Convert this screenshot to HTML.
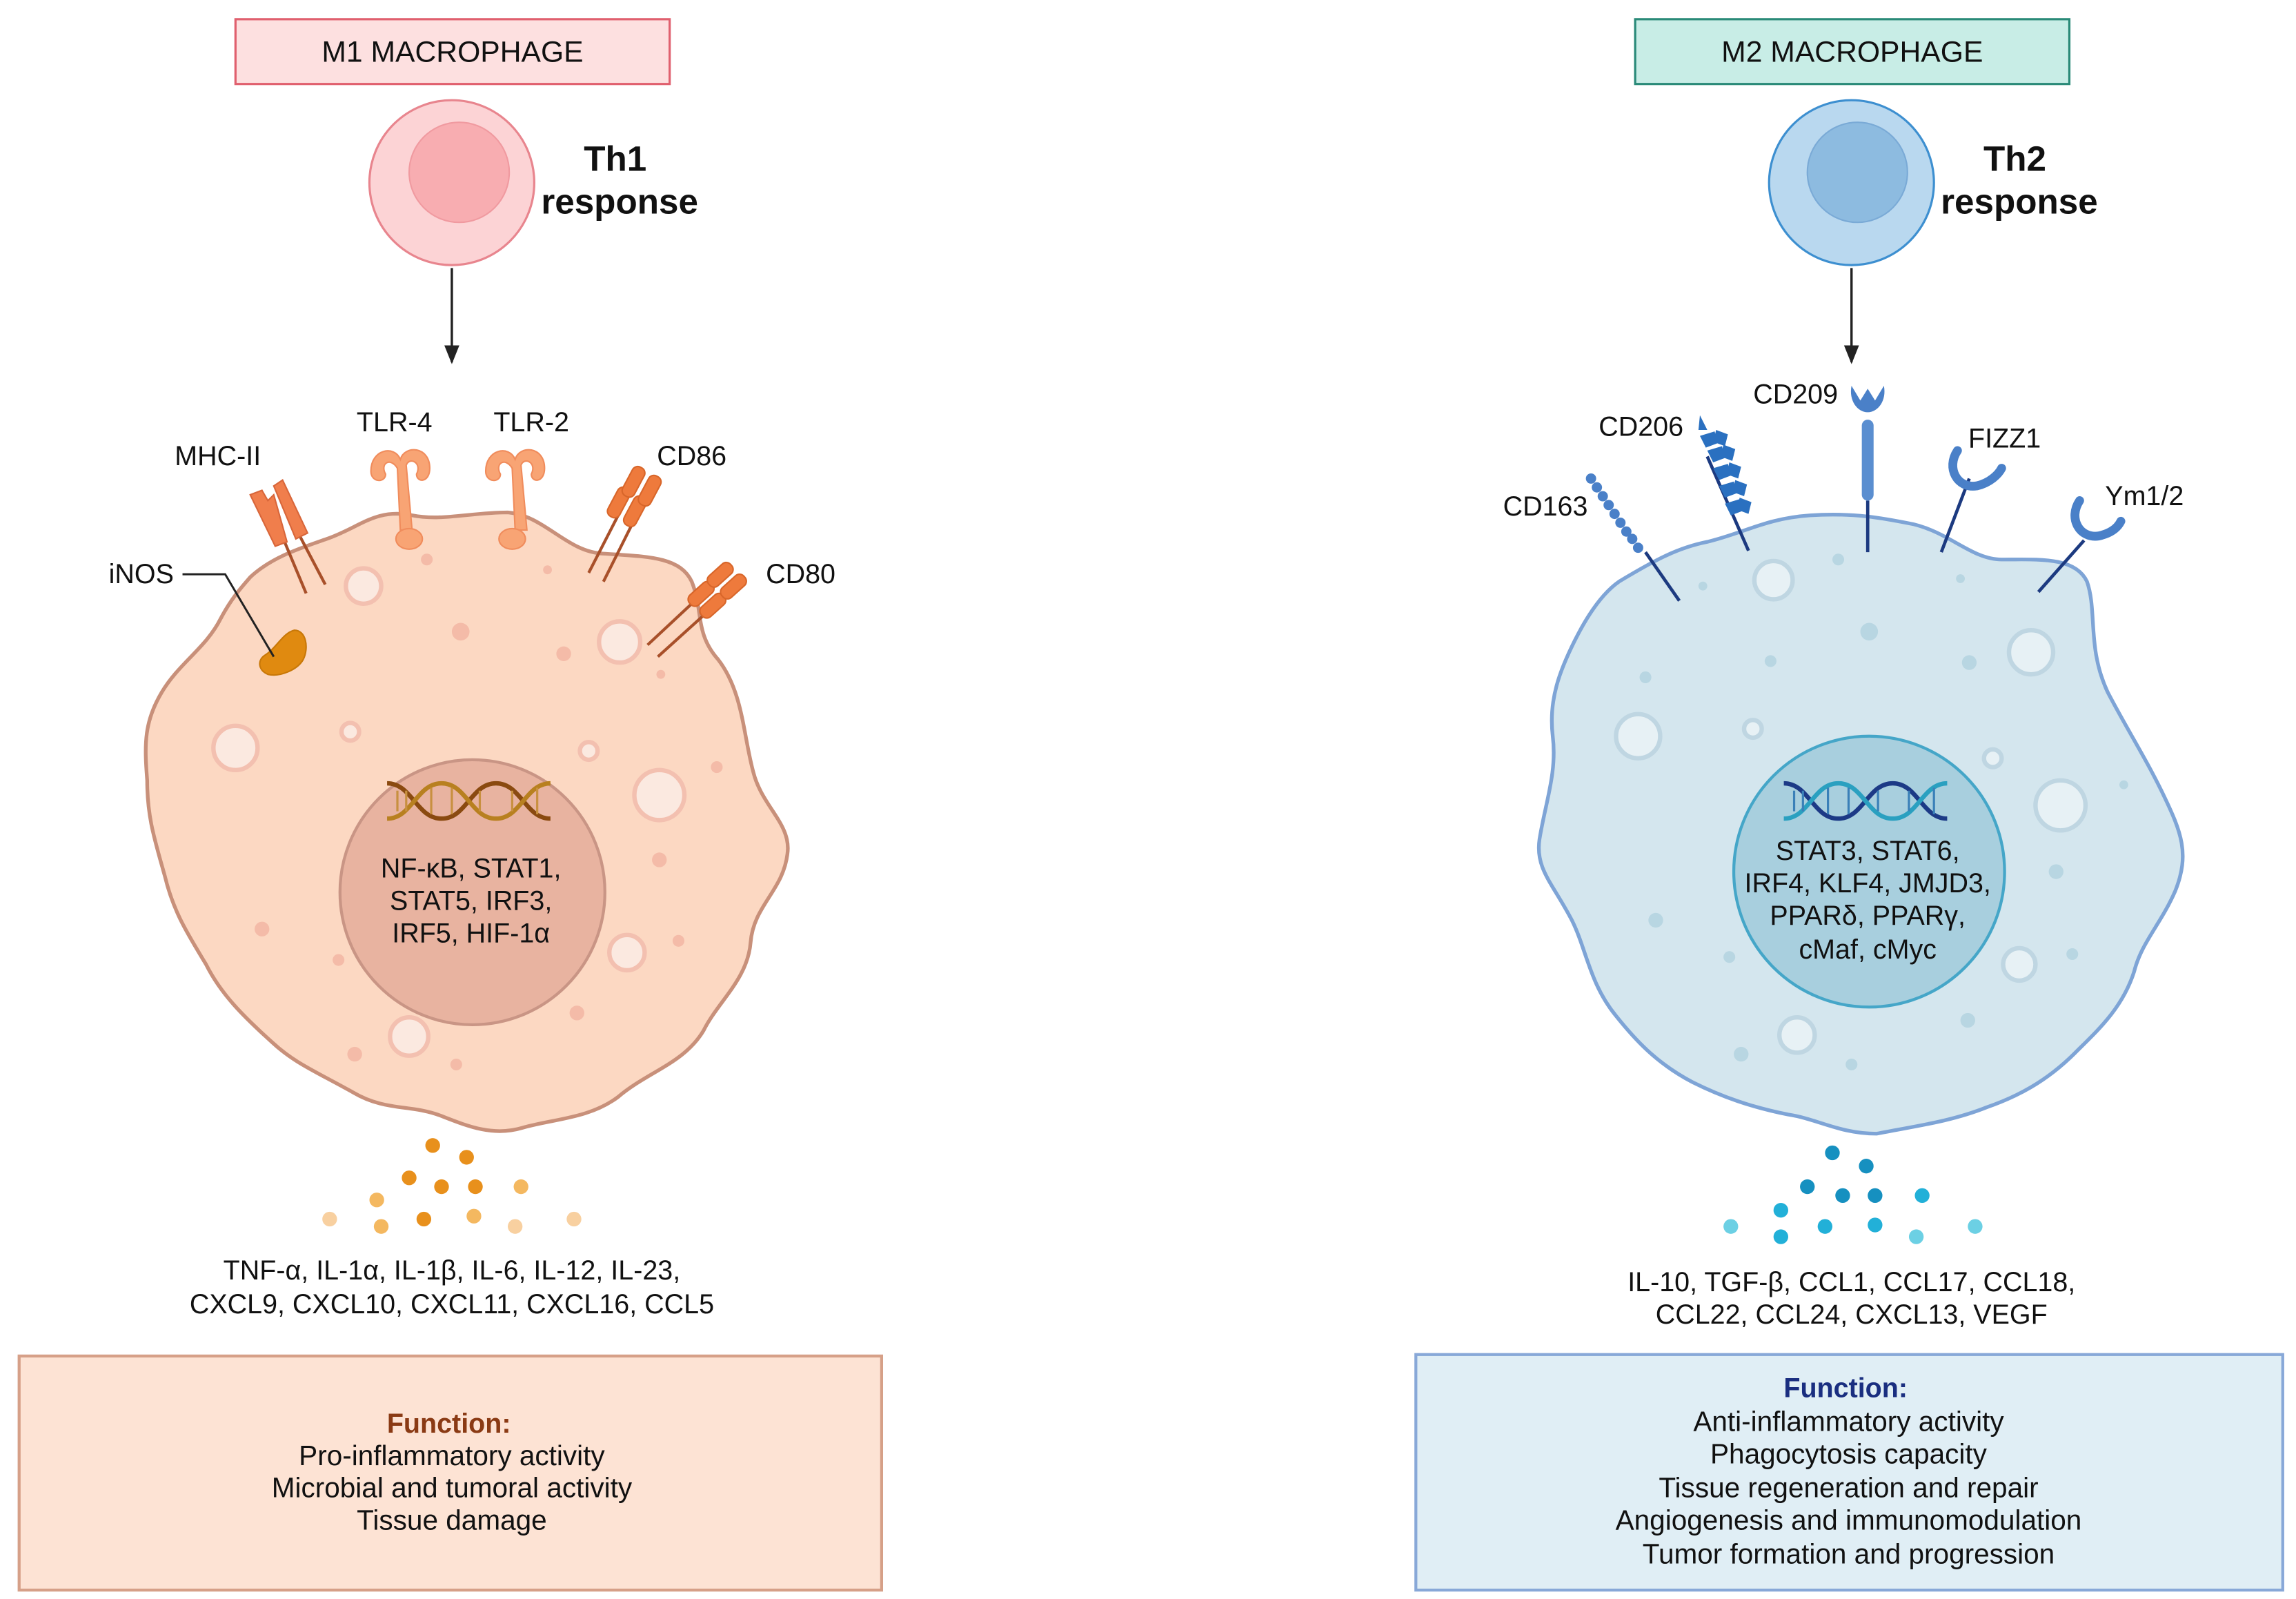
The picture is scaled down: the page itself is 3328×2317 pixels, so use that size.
<!DOCTYPE html>
<html><head><meta charset="utf-8"><style>
html,body{margin:0;padding:0;background:#fff;}
svg{display:block;}
text{font-family:"Liberation Sans",sans-serif;fill:#111;}
</style></head><body>
<svg width="3328" height="2317" viewBox="0 0 1560 1086" xmlns="http://www.w3.org/2000/svg">
<defs>
<marker id="ah" viewBox="0 0 10 10" refX="9" refY="5" markerWidth="8" markerHeight="8" orient="auto"><path d="M0,1 L10,5 L0,9 z" fill="#222"/></marker>
</defs>
<rect width="1560" height="1086" fill="#fff"/>

<rect x="160" y="13" width="295" height="44" fill="#fde0e0" stroke="#e0606e" stroke-width="1.5"/>
<text x="307.5" y="42" font-size="20" text-anchor="middle">M1 MACROPHAGE</text>
<rect x="1111" y="13" width="295" height="44" fill="#c8ede6" stroke="#2a8a78" stroke-width="1.5"/>
<text x="1258.5" y="42" font-size="20" text-anchor="middle">M2 MACROPHAGE</text>

<circle cx="307" cy="124" r="56" fill="#fcd3d5" stroke="#e8858e" stroke-width="1.5"/>
<circle cx="312" cy="117" r="34" fill="#f8adb1" stroke="#f09aa0" stroke-width="1"/>
<text x="418" y="116" font-size="24" font-weight="bold" text-anchor="middle">Th1</text>
<text x="421" y="145" font-size="24" font-weight="bold" text-anchor="middle">response</text>
<circle cx="1258" cy="124" r="56" fill="#b9d8ef" stroke="#3d8fd0" stroke-width="1.5"/>
<circle cx="1262" cy="117" r="34" fill="#8dbbe0" stroke="#7aaad6" stroke-width="1"/>
<text x="1369" y="116" font-size="24" font-weight="bold" text-anchor="middle">Th2</text>
<text x="1372" y="145" font-size="24" font-weight="bold" text-anchor="middle">response</text>

<line x1="307" y1="182" x2="307" y2="246" stroke="#222" stroke-width="1.6" marker-end="url(#ah)"/>
<line x1="1258" y1="182" x2="1258" y2="246" stroke="#222" stroke-width="1.6" marker-end="url(#ah)"/>

<path d="M170,392 C185,378 205,372 222,366 C245,358 255,345 280,350 C300,354 320,348 345,348 C370,350 385,375 410,376 C440,378 462,378 470,395 C478,415 472,430 488,448 C505,470 505,500 512,525 C518,548 538,560 535,580 C532,605 512,615 510,640 C508,665 488,680 478,700 C465,722 440,728 420,745 C400,760 375,760 355,766 C335,772 318,765 300,758 C280,750 262,755 240,742 C215,728 200,722 185,708 C165,690 150,675 140,655 C128,635 118,620 112,595 C105,570 100,555 100,530 C98,505 98,490 110,470 C122,450 140,440 150,420 C158,405 165,398 170,392 Z" fill="#fcd8c2" stroke="#c8907a" stroke-width="2.5"/>
<g fill="#fbe9e0" stroke="#f3c0b0" stroke-width="3">
<circle cx="247" cy="398" r="12"/><circle cx="160" cy="508" r="15"/><circle cx="238" cy="497" r="6"/><circle cx="421" cy="436" r="14"/><circle cx="400" cy="510" r="6"/><circle cx="448" cy="540" r="17"/><circle cx="426" cy="647" r="12"/><circle cx="278" cy="704" r="13"/>
</g>
<g fill="#f4bba8">
<circle cx="313" cy="429" r="6"/><circle cx="383" cy="444" r="5"/><circle cx="178" cy="631" r="5"/><circle cx="230" cy="652" r="4"/><circle cx="241" cy="716" r="5"/><circle cx="310" cy="723" r="4"/><circle cx="392" cy="688" r="5"/><circle cx="448" cy="584" r="5"/><circle cx="461" cy="639" r="4"/><circle cx="290" cy="380" r="4"/><circle cx="372" cy="387" r="3"/><circle cx="449" cy="458" r="3"/><circle cx="487" cy="521" r="4"/>
</g>
<circle cx="321" cy="606" r="90" fill="#e8b3a0" stroke="#c99585" stroke-width="2"/>
<g stroke-width="3" fill="none">
<path d="M263,532 C280,532 283,556 300,556 C317,556 320,532 337,532 C354,532 357,556 374,556" stroke="#8a4a10"/>
<path d="M263,556 C280,556 283,532 300,532 C317,532 320,556 337,556 C354,556 357,532 374,532" stroke="#b88020"/>
<g stroke="#c89040" stroke-width="1.5"><line x1="270" y1="537" x2="270" y2="551"/><line x1="276" y1="537" x2="276" y2="551"/><line x1="293" y1="535" x2="293" y2="553"/><line x1="307" y1="535" x2="307" y2="553"/><line x1="326" y1="537" x2="326" y2="551"/><line x1="348" y1="537" x2="348" y2="551"/><line x1="365" y1="535" x2="365" y2="553"/></g>
</g>
<text font-size="18.5" text-anchor="middle"><tspan x="320" y="596">NF-κB, STAT1,</tspan><tspan x="320" y="618">STAT5, IRF3,</tspan><tspan x="320" y="640">IRF5, HIF-1α</tspan></text>

<g stroke="#a8502a" stroke-width="2"><line x1="190" y1="360" x2="208" y2="403"/><line x1="200" y1="357" x2="221" y2="397"/></g>
<path d="M170,336 L178,333 L182,340 L186,336 L195,368 L187,371 Z" fill="#f07e4c" stroke="#d8663a"/>
<path d="M186,330 L192,326 L209,362 L201,366 Z" fill="#f07e4c" stroke="#d8663a"/>
<g fill="#f8a474" stroke="#f08c5c">
<path d="M252,320 C252,305 268,302 272,312 C275,302 292,303 292,318 C292,328 283,328 283,322 C287,314 278,310 276,316 L280,360 L272,360 L270,318 C265,310 258,315 262,322 C262,328 252,328 252,320 Z"/>
<ellipse cx="278" cy="366" rx="9" ry="7"/>
<path d="M330,320 C330,305 346,302 350,312 C353,302 370,303 370,318 C370,328 361,328 361,322 C365,314 356,310 354,316 L358,360 L350,360 L348,318 C343,310 336,315 340,322 C340,328 330,328 330,320 Z"/>
<ellipse cx="348" cy="366" rx="9" ry="7"/>
</g>
<g stroke="#a8502a" stroke-width="2"><line x1="400" y1="389" x2="420" y2="350"/><line x1="410" y1="395" x2="430" y2="355"/><line x1="440" y1="438" x2="470" y2="410"/><line x1="447" y1="446" x2="478" y2="418"/></g>
<g fill="#ee7a3c" stroke="#d8662a">
<rect x="416" y="330" width="9" height="22" rx="4" transform="rotate(28 420 341)"/><rect x="426" y="316" width="9" height="22" rx="4" transform="rotate(28 430 327)"/>
<rect x="427" y="336" width="9" height="22" rx="4" transform="rotate(28 431 347)"/><rect x="437" y="322" width="9" height="22" rx="4" transform="rotate(28 441 333)"/>
<rect x="472" y="393" width="9" height="20" rx="4" transform="rotate(48 476 403)"/><rect x="485" y="380" width="9" height="20" rx="4" transform="rotate(48 489 390)"/>
<rect x="480" y="401" width="9" height="20" rx="4" transform="rotate(48 484 411)"/><rect x="494" y="388" width="9" height="20" rx="4" transform="rotate(48 498 398)"/>
</g>
<path d="M180,445 C188,440 192,430 200,428 C208,428 210,440 206,448 C202,455 190,460 182,458 C175,455 175,448 180,445 Z" fill="#e08a10" stroke="#c87808"/>
<polyline points="124,390 153,390 186,446" fill="none" stroke="#222" stroke-width="1.4"/>

<g font-size="18.5">
<text x="148" y="316" text-anchor="middle">MHC-II</text>
<text x="268" y="293" text-anchor="middle">TLR-4</text>
<text x="361" y="293" text-anchor="middle">TLR-2</text>
<text x="470" y="316" text-anchor="middle">CD86</text>
<text x="544" y="396" text-anchor="middle">CD80</text>
<text x="96" y="396" text-anchor="middle">iNOS</text>
</g>

<g fill="#e8901c"><circle cx="294" cy="778" r="5"/><circle cx="317" cy="786" r="5"/><circle cx="278" cy="800" r="5"/><circle cx="300" cy="806" r="5"/><circle cx="323" cy="806" r="5"/><circle cx="288" cy="828" r="5"/></g>
<g fill="#f4b860"><circle cx="354" cy="806" r="5"/><circle cx="256" cy="815" r="5"/><circle cx="322" cy="826" r="5"/><circle cx="259" cy="833" r="5"/></g>
<g fill="#f8d0a0"><circle cx="224" cy="828" r="5"/><circle cx="350" cy="833" r="5"/><circle cx="390" cy="828" r="5"/></g>
<text font-size="18.5" text-anchor="middle"><tspan x="307" y="869">TNF-α, IL-1α, IL-1β, IL-6, IL-12, IL-23,</tspan><tspan x="307" y="892">CXCL9, CXCL10, CXCL11, CXCL16, CCL5</tspan></text>

<rect x="13" y="921" width="586" height="159" fill="#fde3d4" stroke="#d6a088" stroke-width="2"/>
<text x="305" y="973" font-size="18.5" font-weight="bold" text-anchor="middle" style="fill:#8a3a14">Function:</text>
<text font-size="19" text-anchor="middle"><tspan x="307" y="995">Pro-inflammatory activity</tspan><tspan x="307" y="1017">Microbial and tumoral activity</tspan><tspan x="307" y="1039">Tissue damage</tspan></text>

<path d="M1100,395 C1125,380 1140,372 1160,368 C1185,362 1200,352 1230,350 C1260,348 1280,352 1300,356 C1325,362 1340,380 1360,380 C1385,380 1410,378 1418,395 C1425,415 1418,440 1432,470 C1445,495 1458,515 1470,540 C1482,565 1488,580 1478,605 C1468,628 1455,640 1450,660 C1442,685 1425,700 1410,715 C1390,735 1370,745 1350,752 C1325,762 1300,765 1275,770 C1250,770 1235,760 1215,757 C1190,752 1170,745 1150,735 C1125,722 1110,705 1098,690 C1080,668 1078,645 1068,625 C1055,600 1043,590 1046,570 C1050,545 1058,525 1055,500 C1052,475 1060,455 1070,435 C1080,415 1090,402 1100,395 Z" fill="#d4e6ee" stroke="#7ea4d6" stroke-width="2.5"/>
<g fill="#e7f1f5" stroke="#bfd6e2" stroke-width="3">
<circle cx="1205" cy="394" r="13"/><circle cx="1113" cy="500" r="15"/><circle cx="1191" cy="495" r="6"/><circle cx="1380" cy="443" r="15"/><circle cx="1354" cy="515" r="6"/><circle cx="1400" cy="547" r="17"/><circle cx="1372" cy="655" r="11"/><circle cx="1221" cy="703" r="12"/>
</g>
<g fill="#b8d6e2">
<circle cx="1270" cy="429" r="6"/><circle cx="1338" cy="450" r="5"/><circle cx="1125" cy="625" r="5"/><circle cx="1175" cy="650" r="4"/><circle cx="1183" cy="716" r="5"/><circle cx="1258" cy="723" r="4"/><circle cx="1337" cy="693" r="5"/><circle cx="1397" cy="592" r="5"/><circle cx="1408" cy="648" r="4"/><circle cx="1249" cy="380" r="4"/><circle cx="1332" cy="393" r="3"/><circle cx="1157" cy="398" r="3"/><circle cx="1443" cy="533" r="3"/><circle cx="1118" cy="460" r="4"/><circle cx="1203" cy="449" r="4"/>
</g>
<circle cx="1270" cy="592" r="92" fill="#a8cfde" stroke="#45a6c8" stroke-width="2"/>
<g stroke-width="3" fill="none">
<path d="M1212,532 C1229,532 1232,556 1249,556 C1266,556 1269,532 1286,532 C1303,532 1306,556 1323,556" stroke="#1c3a86"/>
<path d="M1212,556 C1229,556 1232,532 1249,532 C1266,532 1269,556 1286,556 C1303,556 1306,532 1323,532" stroke="#2aa0c0"/>
<g stroke="#3a80b8" stroke-width="1.5"><line x1="1219" y1="537" x2="1219" y2="551"/><line x1="1225" y1="537" x2="1225" y2="551"/><line x1="1242" y1="535" x2="1242" y2="553"/><line x1="1256" y1="535" x2="1256" y2="553"/><line x1="1276" y1="537" x2="1276" y2="551"/><line x1="1297" y1="537" x2="1297" y2="551"/><line x1="1314" y1="535" x2="1314" y2="553"/></g>
</g>
<text font-size="18.5" text-anchor="middle"><tspan x="1269" y="584">STAT3, STAT6,</tspan><tspan x="1269" y="606">IRF4, KLF4, JMJD3,</tspan><tspan x="1269" y="628">PPARδ, PPARγ,</tspan><tspan x="1269" y="651">cMaf, cMyc</tspan></text>

<g stroke="#1c3a80" stroke-width="2.2" fill="none">
<line x1="1118" y1="375" x2="1141" y2="408"/>
<line x1="1160" y1="310" x2="1188" y2="374"/>
<line x1="1269" y1="340" x2="1269" y2="375"/>
<line x1="1338" y1="325" x2="1319" y2="375"/>
<line x1="1416" y1="367" x2="1385" y2="402"/>
</g>
<g fill="#4a80c8">
<circle cx="1081" cy="325" r="3.5"/><circle cx="1085" cy="331" r="3.5"/><circle cx="1089" cy="337" r="3.5"/><circle cx="1093" cy="343" r="3.5"/><circle cx="1097" cy="349" r="3.5"/><circle cx="1101" cy="355" r="3.5"/><circle cx="1105" cy="361" r="3.5"/><circle cx="1109" cy="366" r="3.5"/><circle cx="1113" cy="372" r="3.5"/>
<rect x="1265" y="285" width="8" height="55" rx="4" fill="#5a8ed0"/>
<path d="M1258,262 L1264,272 L1269,264 L1274,272 L1280,262 C1282,272 1276,280 1269,280 C1262,280 1256,272 1258,262 Z" fill="#4a80c8"/>
</g>
<g fill="#2a70c0">
<path d="M1155,282 l5,10 -6,0 z"/>
<path d="M1155,296 l10,-3 2,8 -8,3 z"/><path d="M1166,292 l8,3 -2,8 -8,-3 z"/>
<path d="M1160,306 l10,-3 2,8 -8,3 z"/><path d="M1171,302 l8,3 -2,8 -8,-3 z"/>
<path d="M1164,318 l10,-3 2,8 -8,3 z"/><path d="M1175,314 l8,3 -2,8 -8,-3 z"/>
<path d="M1168,330 l10,-3 2,8 -8,3 z"/><path d="M1179,326 l8,3 -2,8 -8,-3 z"/>
<path d="M1172,342 l10,-3 2,8 -8,3 z"/><path d="M1182,338 l8,3 -2,8 -8,-3 z"/>
</g>
<path d="M1330,306 C1322,318 1330,332 1343,330 C1352,328 1358,322 1360,318" fill="none" stroke="#4a80c8" stroke-width="6" stroke-linecap="round"/>
<path d="M1413,340 C1405,352 1413,366 1426,364 C1435,362 1439,358 1441,354" fill="none" stroke="#4a80c8" stroke-width="6" stroke-linecap="round"/>

<g font-size="18.5">
<text x="1050" y="350" text-anchor="middle">CD163</text>
<text x="1115" y="296" text-anchor="middle">CD206</text>
<text x="1220" y="274" text-anchor="middle">CD209</text>
<text x="1362" y="304" text-anchor="middle">FIZZ1</text>
<text x="1457" y="343" text-anchor="middle">Ym1/2</text>
</g>

<g fill="#1690c0"><circle cx="1245" cy="783" r="5"/><circle cx="1268" cy="792" r="5"/><circle cx="1228" cy="806" r="5"/><circle cx="1252" cy="812" r="5"/><circle cx="1274" cy="812" r="5"/></g>
<g fill="#22b0d8"><circle cx="1306" cy="812" r="5"/><circle cx="1210" cy="822" r="5"/><circle cx="1240" cy="833" r="5"/><circle cx="1274" cy="832" r="5"/><circle cx="1210" cy="840" r="5"/></g>
<g fill="#6cd0e4"><circle cx="1176" cy="833" r="5"/><circle cx="1302" cy="840" r="5"/><circle cx="1342" cy="833" r="5"/></g>
<text font-size="18.5" text-anchor="middle"><tspan x="1258" y="877">IL-10, TGF-β, CCL1, CCL17, CCL18,</tspan><tspan x="1258" y="899">CCL22, CCL24, CXCL13, VEGF</tspan></text>

<rect x="962" y="920" width="589" height="160" fill="#e0eef5" stroke="#88a8d8" stroke-width="2"/>
<text x="1254" y="949" font-size="18.5" font-weight="bold" text-anchor="middle" style="fill:#1a2e80">Function:</text>
<text font-size="19" text-anchor="middle"><tspan x="1256" y="972">Anti-inflammatory activity</tspan><tspan x="1256" y="994">Phagocytosis capacity</tspan><tspan x="1256" y="1017">Tissue regeneration and repair</tspan><tspan x="1256" y="1039">Angiogenesis and immunomodulation</tspan><tspan x="1256" y="1062">Tumor formation and progression</tspan></text>
</svg>
</body></html>
